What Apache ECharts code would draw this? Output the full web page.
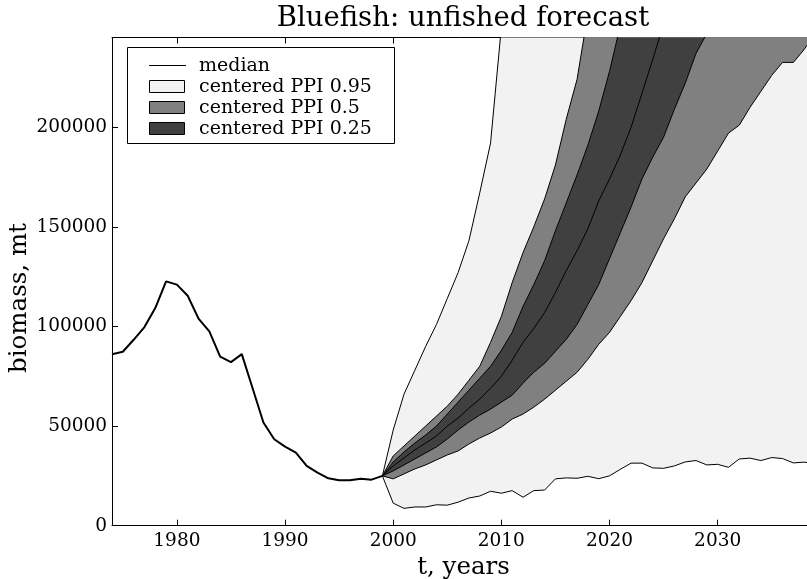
<!DOCTYPE html>
<html>
<head>
<meta charset="utf-8">
<script src="https://cdn.jsdelivr.net/npm/echarts@6/dist/echarts.min.js"></script>
<style>
  html, body { margin: 0; padding: 0; background: #fff; }
  #chart { width: 807px; height: 579px; }
</style>
</head>
<body>
<div id="chart"></div>
<script>
// Observed biomass, 1974-1999 (mt)
const histYears = [1974, 1975, 1976, 1977, 1978, 1979, 1980, 1981, 1982, 1983, 1984, 1985, 1986,
  1987, 1988, 1989, 1990, 1991, 1992, 1993, 1994, 1995, 1996, 1997, 1998, 1999];
const histBiomass = [86000, 87300, 93300, 99700, 109200, 122600, 121000, 115400, 103900, 97500, 84900,
  82100, 86100, 69000, 51800, 43400, 39700, 36700, 30000, 26600, 23800, 22800, 22800, 23600, 23100, 25000];

// Unfished projection, 1999-2039
const fcYears = [1999, 2000, 2001, 2002, 2003, 2004, 2005, 2006, 2007, 2008, 2009, 2010, 2011, 2012,
  2013, 2014, 2015, 2016, 2017, 2018, 2019, 2020, 2021, 2022, 2023, 2024, 2025, 2026, 2027, 2028,
  2029, 2030, 2031, 2032, 2033, 2034, 2035, 2036, 2037, 2038, 2039];
const fcMedian = [25000, 30000, 34000, 38000, 41500, 45000, 50000, 54000, 59000, 63500, 69000, 75000,
  83000, 92000, 99000, 107000, 117000, 128000, 138000, 149000, 163000, 174000, 186000, 200000, 217000,
  234000, 252000, 270000, 290000, 310000, 332000, 354000, 378000, 402000, 430000, 458000, 487000,
  517000, 550000, 584000, 620000];
const lower95 = [25000, 11300, 8700, 9400, 9400, 10500, 10300, 11800, 13900, 14900, 17300, 16300, 17600,
  14300, 17600, 17900, 23500, 24000, 23800, 24800, 23600, 25000, 28300, 31400, 31400, 29000, 28800,
  30000, 32000, 32700, 30500, 30800, 29300, 33500, 33900, 32700, 34200, 33700, 31500, 31900, 31000];
const upper95 = [25000, 48000, 66000, 78000, 90000, 101000, 114000, 127000, 143000, 167000, 192000,
  250000, 300000, 350000, 405000, 465000, 530000, 600000, 680000, 765000, 860000, 960000, 1070000,
  1190000, 1320000, 1460000, 1610000, 1770000, 1940000, 2120000, 2310000, 2510000, 2720000, 2940000,
  3170000, 3410000, 3660000, 3920000, 4190000, 4470000, 4760000];
const lower50 = [25000, 23500, 26000, 28500, 30500, 33000, 35500, 37500, 41000, 44000, 46500, 49500,
  53500, 56000, 59500, 63500, 68000, 72500, 77000, 83500, 91000, 97000, 105000, 113000, 122000, 133000,
  144000, 154000, 165000, 172000, 179000, 188000, 197000, 201000, 210000, 218000, 226000, 232500,
  232500, 239000, 247000];
const upper50 = [25000, 35000, 40000, 45000, 50000, 55000, 60000, 66000, 73000, 80000, 92000, 105000,
  122000, 137000, 150000, 164000, 181000, 204000, 224000, 257000, 287000, 318000, 352000, 388000,
  426000, 466000, 508000, 552000, 598000, 646000, 696000, 748000, 802000, 858000, 916000, 976000,
  1038000, 1102000, 1168000, 1236000, 1306000];
const lower25 = [25000, 27500, 30500, 33500, 36500, 39500, 43500, 48000, 52000, 55500, 58500, 62000,
  65500, 71500, 77000, 81500, 87500, 93500, 101000, 111000, 121000, 134000, 147000, 160000, 174000,
  185000, 195000, 209000, 222000, 237000, 247000, 263000, 281000, 301000, 321000, 343000, 366000,
  391000, 417000, 445000, 473000];
const upper25 = [25000, 32000, 37000, 41500, 45500, 50000, 56000, 62000, 68000, 74000, 80000, 88000,
  97000, 110000, 121000, 133000, 148000, 162000, 176000, 191000, 208000, 228000, 251000, 275000,
  301000, 327000, 356000, 387000, 419000, 453000, 489000, 527000, 567000, 609000, 653000, 701000,
  751000, 803000, 859000, 917000, 977000];

const xTickValues = [1980, 1990, 2000, 2010, 2020, 2030];
const yTickValues = [0, 50000, 100000, 150000, 200000];

const legendNames = ['median', 'centered PPI 0.95', 'centered PPI 0.5', 'centered PPI 0.25'];

const FONT = 'DejaVu Serif';
const LIGHT = '#f2f2f2', MID = '#808080', DARK = '#404040';

const pairs = (xs, ys) => xs.map((x, i) => [x, ys[i]]);

// Filled interval between a lower and an upper edge, as one polygon in data coordinates.
function bandFill(name, lo, hi, fill) {
  return {
    name: name,
    type: 'custom',
    silent: true,
    data: [[fcYears[0], lo[0]]],
    renderItem: function (params, api) {
      const pts = [];
      for (let i = 0; i < fcYears.length; i++) pts.push(api.coord([fcYears[i], hi[i]]));
      for (let i = fcYears.length - 1; i >= 0; i--) pts.push(api.coord([fcYears[i], lo[i]]));
      const cs = params.coordSys;
      return {
        type: 'group',
        clipPath: { type: 'rect', shape: { x: cs.x, y: cs.y, width: cs.width, height: cs.height } },
        children: [{ type: 'polygon', shape: { points: pts }, style: { fill: fill, stroke: null } }]
      };
    }
  };
}

function edge(name, xs, ys, width) {
  return {
    name: name, type: 'line', data: pairs(xs, ys), symbol: 'none', clip: true,
    lineStyle: { color: '#000', width: width }, itemStyle: { color: '#000' },
    emphasis: { disabled: true }, silent: true
  };
}

const chart = echarts.init(document.getElementById('chart'), null, { renderer: 'canvas' });

const xBase = {
  type: 'value', min: 1974, max: 2039,
  splitLine: { show: false },
  axisLine: { show: true, onZero: false, lineStyle: { color: '#000', width: 1 } }
};

// Framed key in the upper-left of the plot
const legendX = 127, legendY = 47, legendW = 267, legendH = 96;
const rowY = [65, 86, 107, 128];
const swatchFill = [null, LIGHT, MID, DARK];
const legendGraphics = [{
  type: 'rect', z: 100,
  shape: { x: legendX + 0.5, y: legendY + 0.5, width: legendW, height: legendH },
  style: { fill: '#fff', stroke: '#000', lineWidth: 1 }
}];
legendNames.forEach((name, i) => {
  if (swatchFill[i] === null) {
    legendGraphics.push({
      type: 'line', z: 101,
      shape: { x1: 149, y1: rowY[i] + 0.5, x2: 186, y2: rowY[i] + 0.5 },
      style: { stroke: '#000', lineWidth: 1 }
    });
  } else {
    legendGraphics.push({
      type: 'rect', z: 101,
      shape: { x: 149.5, y: rowY[i] - 5.5, width: 35, height: 12 },
      style: { fill: swatchFill[i], stroke: '#000', lineWidth: 1 }
    });
  }
  legendGraphics.push({
    type: 'text', z: 101, x: 199, y: rowY[i] + 1,
    style: { text: name, font: '19px "DejaVu Serif"', fill: '#000', textVerticalAlign: 'middle', verticalAlign: 'middle' }
  });
});

chart.setOption({
  animation: false,
  backgroundColor: '#fff',
  grid: { left: 112, right: -8, top: 37.5, bottom: 53.3, containLabel: false, outerBoundsMode: 'none' },
  graphic: [
    {
      type: 'text', x: 463, y: 19,
      style: { text: 'Bluefish: unfished forecast', font: '27.5px "DejaVu Serif"', fill: '#000',
        align: 'center', textAlign: 'center', verticalAlign: 'middle', textVerticalAlign: 'middle' }
    },
    {
      type: 'text', x: 20, y: 298, rotation: Math.PI / 2,
      style: { text: 'biomass, mt', font: '24.5px "DejaVu Serif"', fill: '#000',
        align: 'center', textAlign: 'center', verticalAlign: 'middle', textVerticalAlign: 'middle' }
    }
  ].concat(legendGraphics),
  xAxis: [
    Object.assign({}, xBase, {
      position: 'bottom',
      name: 't, years', nameLocation: 'middle', nameGap: 24,
      nameTextStyle: { fontFamily: FONT, fontSize: 24.5, color: '#000' },
      axisTick: { show: true, inside: true, length: 6, customValues: xTickValues, lineStyle: { color: '#000' } },
      axisLabel: { show: true, margin: 6, customValues: xTickValues, fontFamily: FONT, fontSize: 18.5,
        color: '#000', formatter: v => String(v) }
    }),
    Object.assign({}, xBase, {
      position: 'top',
      axisTick: { show: true, inside: true, length: 6, customValues: xTickValues, lineStyle: { color: '#000' } },
      axisLabel: { show: false }
    })
  ],
  yAxis: {
    type: 'value', min: 0, max: 245000,
    splitLine: { show: false },
    axisLine: { show: true, lineStyle: { color: '#000', width: 1 } },
    axisTick: { show: true, inside: true, length: 6, customValues: yTickValues, lineStyle: { color: '#000' } },
    axisLabel: { show: true, margin: 5, customValues: yTickValues, fontFamily: FONT, fontSize: 18.5,
      color: '#000', formatter: v => String(v) }
  },
  series: [
    bandFill('centered PPI 0.95', lower95, upper95, LIGHT),
    bandFill('centered PPI 0.5', lower50, upper50, MID),
    bandFill('centered PPI 0.25', lower25, upper25, DARK),
    edge('lower 95', fcYears, lower95, 1),
    edge('upper 95', fcYears, upper95, 1),
    edge('lower 50', fcYears, lower50, 1),
    edge('upper 50', fcYears, upper50, 1),
    edge('lower 25', fcYears, lower25, 1),
    edge('upper 25', fcYears, upper25, 1),
    edge('median', fcYears, fcMedian, 1),
    edge('observed', histYears, histBiomass, 2)
  ]
});
</script>
</body>
</html>
